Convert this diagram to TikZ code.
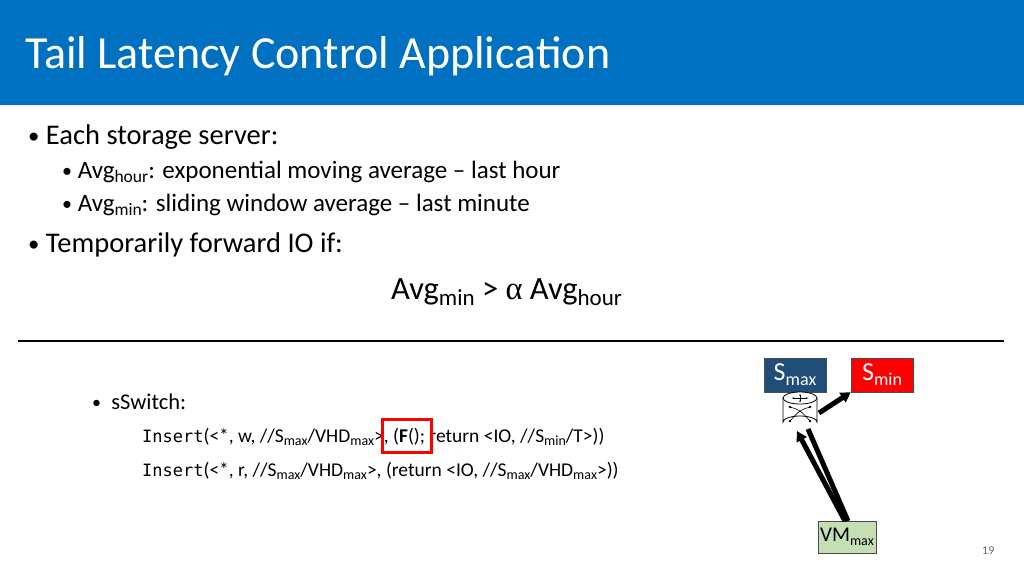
\documentclass[tikz,border=0pt]{standalone}
\usepackage{fontspec}
\setmainfont{Carlito}
\newfontfamily\codefont{DejaVu Sans Mono}
\newfontfamily\serf{Liberation Serif}
\usetikzlibrary{arrows.meta,shapes.geometric}
\definecolor{hdr}{HTML}{0070C0}
\definecolor{smaxc}{HTML}{1F4E79}
\definecolor{vmc}{HTML}{C5DFB4}
\tikzset{
  txt/.style={anchor=base west,inner sep=0pt},
  fat/.style={line width=5pt,-{Triangle[length=10pt,width=11pt]}},
  box/.style={draw=black!70,minimum width=62pt,minimum height=34pt,inner sep=0pt},
}
\newcommand{\sbx}[1]{\raisebox{-3pt}{\fontsize{14}{14}\selectfont #1}}
\newcommand{\sbb}[1]{\raisebox{-4pt}{\fontsize{17.5}{17}\selectfont #1}}
\newcommand{\bul}{\raisebox{1pt}{\scalebox{0.8}{\textbullet}}}
\begin{document}
\begin{tikzpicture}[x=1pt,y=-1pt]
\useasboundingbox (0,0) rectangle (1024,576);
\fill[hdr] (0,0) rectangle (1024,105);
\node[txt,text=white,font=\fontsize{46}{46}\selectfont] (title) at (25,68) {Tail Latency Control Application};
\node[txt,font=\fontsize{28.5}{28}\selectfont] (b1) at (28,144) {\bul\ Each storage server:};
\node[txt,font=\fontsize{25}{25}\selectfont] (b2) at (62,178) {\bul\ Avg\sbb{hour}: exponential moving average -- last hour};
\node[txt,font=\fontsize{25}{25}\selectfont] (b3) at (62,211) {\bul\ Avg\sbb{min}: sliding window average -- last minute};
\node[txt,font=\fontsize{28.5}{28}\selectfont] (b4) at (28,252) {\bul\ Temporarily forward IO if:};
\node[txt,font=\fontsize{32.5}{32}\selectfont] (eq) at (391,299) {Avg\raisebox{-6pt}{\fontsize{23}{23}\selectfont min} > {\serf α} Avg\raisebox{-6pt}{\fontsize{23}{23}\selectfont hour}};
\draw[line width=1.2pt] (18,341) -- (1004,341);
\node[txt,font=\fontsize{22.5}{22}\selectfont] (sw) at (92,409) {\bul\ \ sSwitch:};
\node[txt,font=\fontsize{19.5}{19}\selectfont] (l1) at (142,442) {{\codefont\fontsize{17}{17}\selectfont Insert}(<*, w, //S\sbx{max}/VHD\sbx{max}>, (\textbf{F}(); return <IO, //S\sbx{min}/T>))};
\node[txt,font=\fontsize{19.5}{19}\selectfont] (l2) at (142,476) {{\codefont\fontsize{17}{17}\selectfont Insert}(<*, r, //S\sbx{max}/VHD\sbx{max}>, (return <IO, //S\sbx{max}/VHD\sbx{max}>))};
\draw[red,line width=3pt] (382,419) rectangle (431,452);
\node[box,fill=smaxc,text=white,font=\fontsize{26}{26}\selectfont] (smax) at (795,375) {S\raisebox{-5pt}{\fontsize{18}{18}\selectfont max}};
\node[box,fill=red,text=white,font=\fontsize{26}{26}\selectfont] (smin) at (882,375) {S\raisebox{-5pt}{\fontsize{18}{18}\selectfont min}};
\node[box,fill=vmc,font=\fontsize{21}{21}\selectfont,minimum width=58pt,minimum height=32pt] (vm) at (847,537) {VM\raisebox{-4pt}{\fontsize{14}{14}\selectfont max}};
\draw[fill=white,line width=0.8pt] (783,398) -- (783,422) arc[start angle=180,end angle=360,x radius=17,y radius=6] -- (817,398);
\draw[fill=white,line width=0.8pt] (800,398) ellipse[x radius=17,y radius=6];
\draw[line width=0.6pt,-{Stealth[length=2pt]}] (800,398) -- (800,394);
\draw[line width=0.6pt,-{Stealth[length=2pt]}] (800,398) -- (800,402.5);
\draw[line width=0.6pt,-{Stealth[length=2pt]}] (800,398) -- (792,398);
\draw[line width=0.6pt,-{Stealth[length=2pt]}] (800,398) -- (808,398);
\draw[line width=0.6pt] (790,407) .. controls (800,410) .. (810,421) (810,407) .. controls (800,410) .. (790,421);
\fill (790,407) circle (1.3) (810,407) circle (1.3) (790,421) circle (1.3) (810,421) circle (1.3);
\coordinate (swb) at (797,431);
\coordinate (swb2) at (808,429);
\coordinate (swr) at (819,413);
\coordinate (vmt) at (845,521);
\coordinate (vmt2) at (848,521);
\draw[fat] (vmt) -- (swb);
\draw[line width=5pt] (vmt2) -- (swb2);
\draw[fat] (swr) -- (smin.south west);
\node[txt,text=black!60,font=\fontsize{12}{12}\selectfont] (pg) at (982,554) {19};
\end{tikzpicture}
\end{document}
